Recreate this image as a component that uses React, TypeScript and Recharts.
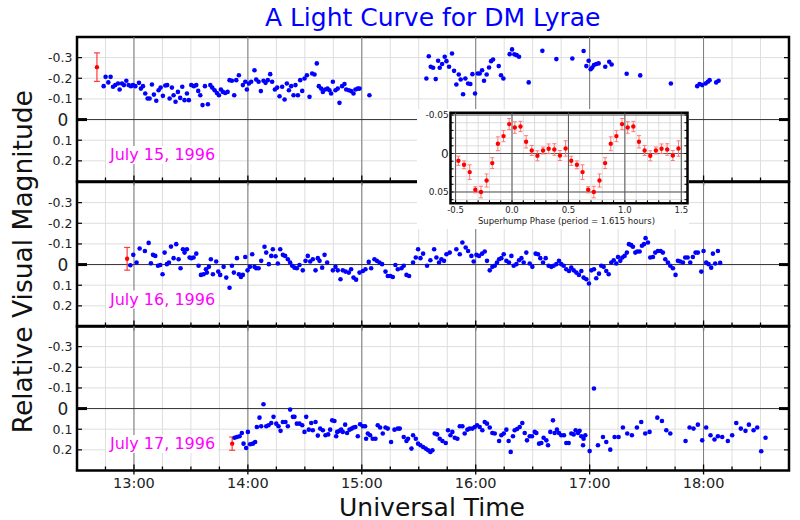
import React from 'react';
import { ScatterChart, Scatter, XAxis, YAxis, CartesianGrid, ReferenceLine, ReferenceArea, ErrorBar } from 'recharts';

const FONT = '"DejaVu Sans", Verdana, sans-serif';

// main panels: 15 minute ticks, hour lines, magnitude ticks
const timeTicks = [12.5, 12.75, 13, 13.25, 13.5, 13.75, 14, 14.25, 14.5, 14.75, 15, 15.25, 15.5, 15.75, 16, 16.25, 16.5, 16.75, 17, 17.25, 17.5, 17.75, 18, 18.25, 18.5, 18.75];
const hourLines = [13, 14, 15, 16, 17, 18];
const magTicks = [-0.3, -0.2, -0.1, 0, 0.1, 0.2];
const dateLabels = ['July 15, 1996', 'July 16, 1996', 'July 17, 1996'];

// [UT hours, relative magnitude]
const july15: [number, number][] = [
  [12.734, -0.162], [12.751, -0.207], [12.775, -0.18], [12.795, -0.207], [12.816, -0.159], [12.836, -0.167], [12.86, -0.175], [12.874, -0.146],
  [12.895, -0.175], [12.912, -0.167], [12.933, -0.188], [12.953, -0.167], [12.974, -0.162], [12.991, -0.167], [13.012, -0.162], [13.044, -0.178],
  [13.061, -0.15], [13.079, -0.162], [13.099, -0.126], [13.12, -0.102], [13.137, -0.102], [13.158, -0.17], [13.175, -0.121], [13.196, -0.091],
  [13.216, -0.142], [13.234, -0.155], [13.254, -0.115], [13.275, -0.165], [13.292, -0.167], [13.313, -0.102], [13.333, -0.155], [13.348, -0.118],
  [13.365, -0.086], [13.386, -0.134], [13.406, -0.105], [13.424, -0.159], [13.444, -0.094], [13.465, -0.126], [13.482, -0.094], [13.503, -0.167],
  [13.526, -0.162], [13.547, -0.167], [13.564, -0.139], [13.582, -0.118], [13.602, -0.07], [13.623, -0.162], [13.649, -0.074], [13.67, -0.167],
  [13.687, -0.155], [13.708, -0.142], [13.728, -0.129], [13.746, -0.118], [13.763, -0.146], [13.781, -0.134], [13.801, -0.129], [13.822, -0.134],
  [13.839, -0.191], [13.86, -0.188], [13.88, -0.118], [13.898, -0.191], [13.921, -0.215], [13.956, -0.167], [13.977, -0.183], [13.991, -0.146],
  [14.009, -0.175], [14.029, -0.183], [14.058, -0.239], [14.073, -0.194], [14.094, -0.183], [14.114, -0.138], [14.137, -0.188], [14.155, -0.178],
  [14.175, -0.191], [14.196, -0.22], [14.213, -0.183], [14.237, -0.146], [14.257, -0.155], [14.278, -0.113], [14.301, -0.159], [14.322, -0.097],
  [14.342, -0.175], [14.36, -0.142], [14.38, -0.162], [14.401, -0.118], [14.418, -0.167], [14.439, -0.118], [14.459, -0.191], [14.477, -0.139],
  [14.497, -0.199], [14.518, -0.215], [14.541, -0.11], [14.564, -0.223], [14.585, -0.218], [14.605, -0.272], [14.623, -0.162], [14.643, -0.15],
  [14.658, -0.134], [14.678, -0.146], [14.699, -0.15], [14.716, -0.142], [14.731, -0.126], [14.746, -0.183], [14.769, -0.142], [14.789, -0.15],
  [14.804, -0.081], [14.827, -0.162], [14.848, -0.172], [14.863, -0.146], [14.886, -0.142], [14.906, -0.138], [14.927, -0.126], [14.944, -0.146],
  [14.965, -0.15], [14.98, -0.15], [15.067, -0.118],
  [15.567, -0.199], [15.588, -0.307], [15.605, -0.256], [15.626, -0.251], [15.649, -0.196], [15.67, -0.285], [15.684, -0.251], [15.705, -0.269],
  [15.728, -0.304], [15.743, -0.283], [15.766, -0.256], [15.792, -0.32], [15.81, -0.236], [15.83, -0.17], [15.851, -0.218], [15.868, -0.194],
  [15.889, -0.123], [15.909, -0.199], [15.933, -0.175], [15.953, -0.172], [15.971, -0.22], [15.994, -0.126], [16.018, -0.223], [16.035, -0.223],
  [16.056, -0.239], [16.073, -0.188], [16.096, -0.218], [16.117, -0.252], [16.135, -0.283], [16.152, -0.291], [16.202, -0.259], [16.222, -0.215],
  [16.243, -0.199], [16.298, -0.317], [16.319, -0.34], [16.339, -0.316], [16.36, -0.312], [16.38, -0.304], [16.465, -0.18], [16.585, -0.333],
  [16.708, -0.293], [16.848, -0.296], [16.947, -0.332], [16.971, -0.259], [16.991, -0.285], [17.009, -0.244], [17.023, -0.252], [17.038, -0.264],
  [17.058, -0.269], [17.079, -0.272], [17.137, -0.256], [17.172, -0.28], [17.193, -0.267], [17.325, -0.222], [17.444, -0.214], [17.713, -0.175],
  [17.944, -0.162], [17.965, -0.172], [17.988, -0.167], [18.018, -0.175], [18.038, -0.183], [18.053, -0.191], [18.111, -0.18], [18.132, -0.188],
];

const july16: [number, number][] = [
  [12.968, 0.003], [12.994, -0.047], [13.023, -0.01], [13.05, -0.078], [13.096, -0.066], [13.129, -0.105], [13.149, -0.006], [13.167, -0.047],
  [13.187, -0.042], [13.211, 0.006], [13.231, 0.002], [13.251, 0.047], [13.269, -0.058], [13.289, -0.002], [13.307, -0.01], [13.325, -0.087],
  [13.348, -0.031], [13.371, -0.099], [13.392, -0.026], [13.409, 0.018], [13.43, -0.074], [13.444, -0.058], [13.465, -0.074], [13.488, -0.034],
  [13.503, -0.031], [13.523, -0.034], [13.547, -0.053], [13.567, 0.006], [13.588, 0.05], [13.611, 0.047], [13.632, 0.023], [13.64, 0.039],
  [13.658, 0.011], [13.675, -0.026], [13.693, 0.047], [13.722, -0.015], [13.74, 0.034], [13.757, 0.05], [13.787, 0.011], [13.81, 0.063],
  [13.839, 0.112], [13.86, 0.006], [13.877, 0.039], [13.904, -0.031], [13.921, 0.047], [13.939, 0.06], [13.956, 0.05], [13.977, -0.037],
  [13.997, 0.028], [14.018, 0.011], [14.038, -0.05], [14.058, 0.011], [14.073, 0.018], [14.094, 0.018], [14.117, -0.018], [14.146, -0.086],
  [14.161, -0.058], [14.184, -0.002], [14.205, -0.042], [14.219, -0.074], [14.243, -0.04], [14.263, -0.005], [14.284, -0.074], [14.307, -0.047],
  [14.327, -0.042], [14.351, -0.026], [14.371, -0.01], [14.389, 0.006], [14.409, 0.015], [14.43, 0.018], [14.453, 0.002], [14.482, 0.028],
  [14.506, -0.018], [14.526, -0.042], [14.547, -0.015], [14.57, -0.026], [14.594, 0.028], [14.614, -0.031], [14.629, -0.018], [14.652, 0.015],
  [14.673, -0.047], [14.696, -0.01], [14.746, 0.028], [14.769, 0.011], [14.789, 0.028], [14.813, 0.071], [14.833, 0.028], [14.857, 0.034],
  [14.886, 0.039], [14.906, 0.023], [14.927, 0.063], [14.95, 0.073], [14.98, 0.039], [15.009, 0.031], [15.032, 0.023], [15.061, -0.013],
  [15.082, 0.018], [15.111, -0.026], [15.132, -0.018], [15.155, -0.01], [15.178, -0.002], [15.208, 0.034], [15.228, 0.055], [15.251, 0.055],
  [15.272, 0.06], [15.295, 0.002], [15.316, 0.023], [15.348, 0.018], [15.368, 0.006], [15.392, 0.05], [15.415, 0.055], [15.45, -0.01],
  [15.474, -0.034], [15.494, -0.074], [15.515, -0.031], [15.538, -0.053], [15.573, 0.006], [15.602, -0.021], [15.635, -0.074], [15.655, -0.034],
  [15.678, -0.01], [15.699, -0.026], [15.722, -0.018], [15.743, -0.05], [15.772, -0.058], [15.83, -0.074], [15.86, -0.05], [15.883, -0.107],
  [15.912, -0.083], [15.933, -0.066], [15.962, -0.042], [15.982, -0.015], [16.006, -0.047], [16.029, -0.042], [16.056, -0.053], [16.079, -0.063],
  [16.099, -0.018], [16.123, 0.028], [16.146, 0.011], [16.167, 0.006], [16.187, -0.01], [16.205, -0.026], [16.225, -0.031], [16.246, -0.05],
  [16.269, -0.018], [16.292, -0.01], [16.313, -0.042], [16.333, 0.006], [16.357, -0.002], [16.38, -0.021], [16.401, -0.031], [16.421, -0.01],
  [16.444, -0.058], [16.474, -0.005], [16.497, 0.011], [16.526, -0.053], [16.547, -0.05], [16.567, -0.031], [16.591, -0.01], [16.614, -0.031],
  [16.64, 0.006], [16.664, 0.011], [16.684, 0.006], [16.708, -0.002], [16.731, -0.018], [16.751, -0.002], [16.772, 0.006], [16.795, 0.023],
  [16.819, 0.031], [16.839, 0.015], [16.86, 0.028], [16.883, 0.039], [16.906, 0.05], [16.927, 0.031], [16.947, 0.063], [16.971, 0.071],
  [16.994, 0.092], [17.015, 0.028], [17.038, 0.023], [17.058, 0.066], [17.082, 0.044], [17.102, 0.006], [17.123, 0.011], [17.146, 0.031],
  [17.167, 0.047], [17.19, -0.01], [17.211, -0.021], [17.234, -0.005], [17.249, -0.037], [17.269, -0.018], [17.287, -0.034], [17.307, -0.042],
  [17.327, -0.058], [17.345, -0.099], [17.365, -0.094], [17.38, -0.086], [17.401, -0.058], [17.418, -0.063], [17.439, -0.063], [17.459, -0.091],
  [17.477, -0.099], [17.491, -0.128], [17.512, -0.107], [17.532, -0.034], [17.556, -0.037], [17.576, -0.058], [17.599, -0.066], [17.623, -0.066],
  [17.643, -0.058], [17.664, -0.026], [17.687, -0.01], [17.708, 0.006], [17.731, 0.018], [17.754, 0.05], [17.775, -0.018], [17.795, -0.015],
  [17.819, -0.01], [17.839, -0.034], [17.86, -0.034], [17.883, -0.01], [17.906, -0.037], [17.93, -0.058], [17.95, -0.058], [17.98, 0.034],
  [18.0, -0.066], [18.023, -0.01], [18.044, -0.002], [18.067, 0.015], [18.082, -0.053], [18.102, -0.005], [18.126, -0.066], [18.146, -0.008],
];

const july17: [number, number][] = [
  [13.883, 0.141], [13.904, 0.138], [13.927, 0.134], [13.947, 0.118], [13.962, 0.17], [13.985, 0.191], [14.0, 0.113], [14.02, 0.173],
  [14.044, 0.17], [14.064, 0.162], [14.079, 0.089], [14.102, 0.044], [14.117, 0.086], [14.137, -0.021], [14.161, 0.086], [14.181, 0.081],
  [14.205, 0.07], [14.225, 0.04], [14.249, 0.073], [14.269, 0.086], [14.287, 0.108], [14.307, 0.065], [14.33, 0.065], [14.351, 0.086],
  [14.371, 0.005], [14.395, 0.04], [14.409, 0.04], [14.43, 0.073], [14.453, 0.073], [14.477, 0.081], [14.497, 0.113], [14.512, 0.04],
  [14.535, 0.102], [14.556, 0.07], [14.57, 0.105], [14.594, 0.065], [14.614, 0.131], [14.635, 0.097], [14.658, 0.105], [14.681, 0.129],
  [14.705, 0.125], [14.722, 0.102], [14.74, 0.057], [14.76, 0.06], [14.775, 0.134], [14.784, 0.113], [14.804, 0.108], [14.819, 0.102],
  [14.833, 0.113], [14.854, 0.078], [14.871, 0.118], [14.892, 0.102], [14.912, 0.097], [14.927, 0.092], [14.944, 0.089], [14.965, 0.134],
  [14.985, 0.076], [15.009, 0.086], [15.029, 0.086], [15.038, 0.146], [15.053, 0.121], [15.073, 0.129], [15.096, 0.146], [15.12, 0.146],
  [15.14, 0.081], [15.161, 0.092], [15.184, 0.121], [15.208, 0.092], [15.228, 0.097], [15.257, 0.162], [15.287, 0.102], [15.316, 0.097],
  [15.333, 0.097], [15.368, 0.138], [15.392, 0.157], [15.406, 0.146], [15.436, 0.194], [15.45, 0.129], [15.474, 0.146], [15.494, 0.17],
  [15.515, 0.178], [15.538, 0.186], [15.561, 0.194], [15.582, 0.202], [15.602, 0.21], [15.62, 0.202], [15.64, 0.121], [15.661, 0.125],
  [15.684, 0.146], [15.708, 0.157], [15.737, 0.167], [15.757, 0.105], [15.778, 0.129], [15.795, 0.113], [15.816, 0.141], [15.839, 0.146],
  [15.86, 0.086], [15.883, 0.086], [15.903, 0.121], [15.927, 0.102], [15.947, 0.097], [15.971, 0.097], [15.991, 0.089], [16.012, 0.081],
  [16.035, 0.089], [16.058, 0.105], [16.079, 0.065], [16.099, 0.073], [16.123, 0.092], [16.146, 0.118], [16.167, 0.121], [16.205, 0.157],
  [16.225, 0.129], [16.246, 0.121], [16.269, 0.102], [16.289, 0.157], [16.307, 0.21], [16.327, 0.134], [16.342, 0.105], [16.363, 0.099],
  [16.386, 0.089], [16.409, 0.07], [16.43, 0.118], [16.45, 0.154], [16.474, 0.134], [16.494, 0.134], [16.518, 0.113], [16.532, 0.118],
  [16.556, 0.17], [16.576, 0.167], [16.596, 0.141], [16.62, 0.154], [16.635, 0.178], [16.655, 0.113], [16.678, 0.057], [16.693, 0.118],
  [16.713, 0.102], [16.731, 0.118], [16.751, 0.129], [16.775, 0.129], [16.795, 0.167], [16.816, 0.167], [16.839, 0.121], [16.86, 0.125],
  [16.877, 0.105], [16.898, 0.118], [16.912, 0.108], [16.927, 0.134], [16.947, 0.146], [16.942, 0.178], [16.962, 0.129], [17.0, 0.206],
  [17.038, -0.097], [17.073, 0.178], [17.117, 0.138], [17.146, 0.162], [17.181, 0.199], [17.219, 0.138], [17.254, 0.138], [17.292, 0.092],
  [17.33, 0.121], [17.371, 0.129], [17.415, 0.092], [17.453, 0.065], [17.488, 0.121], [17.526, 0.113], [17.594, 0.044], [17.635, 0.06],
  [17.673, 0.105], [17.708, 0.121], [17.842, 0.157], [17.877, 0.092], [17.912, 0.097], [17.95, 0.078], [17.988, 0.154], [18.023, 0.092],
  [18.061, 0.129], [18.096, 0.15], [18.126, 0.134], [18.164, 0.138], [18.213, 0.157], [18.251, 0.129], [18.287, 0.07], [18.327, 0.097],
  [18.368, 0.108], [18.398, 0.078], [18.439, 0.105], [18.471, 0.092], [18.506, 0.207], [18.544, 0.141],
];

// typical error bar drawn once per night: [UT hours, magnitude, error]
const july15Err: [number, number, number] = [12.675, -0.254, 0.069];
const july16Err: [number, number, number] = [12.94, -0.028, 0.055];
const july17Err: [number, number, number] = [13.862, 0.17, 0.032];

// inset: light curve folded on the superhump period (two cycles shown)
const phase = [
  -0.475, -0.425, -0.375, -0.325, -0.275, -0.225, -0.175, -0.125, -0.075, -0.025,
  0.025, 0.075, 0.125, 0.175, 0.225, 0.275, 0.325, 0.375, 0.425, 0.475,
  0.525, 0.575, 0.625, 0.675, 0.725, 0.775, 0.825, 0.875, 0.925, 0.975,
  1.025, 1.075, 1.125, 1.175, 1.225, 1.275, 1.325, 1.375, 1.425, 1.475,
];
const phaseMag = [
  0.0095, 0.0147, 0.0242, 0.0471, 0.0501, 0.0351, 0.0125, -0.0126, -0.0226, -0.0382,
  -0.0338, -0.0351, -0.0152, -0.0039, 0.003, -0.0039, -0.0061, -0.0052, 0.0026, -0.0065,
  0.0095, 0.0147, 0.0242, 0.0471, 0.0501, 0.0351, 0.0125, -0.0126, -0.0226, -0.0382,
  -0.0338, -0.0351, -0.0152, -0.0039, 0.003, -0.0039, -0.0061, -0.0052, 0.0026, -0.0065,
];
const phaseErr = [
  0.006, 0.005, 0.0095, 0.004, 0.0075, 0.0085, 0.007, 0.009, 0.0073, 0.0073,
  0.0075, 0.0067, 0.008, 0.0065, 0.0065, 0.0045, 0.0063, 0.0075, 0.0065, 0.01,
  0.006, 0.005, 0.0095, 0.004, 0.0075, 0.0085, 0.007, 0.009, 0.0073, 0.0073,
  0.0075, 0.0067, 0.008, 0.0065, 0.0065, 0.0045, 0.0063, 0.0075, 0.0065, 0.01,
];
const phaseTicks = [-0.5, -0.4, -0.3, -0.2, -0.1, 0, 0.1, 0.2, 0.3, 0.4, 0.5, 0.6, 0.7, 0.8, 0.9, 1, 1.1, 1.2, 1.3, 1.4, 1.5];
const phaseMajor = [-0.5, 0, 0.5, 1, 1.5];
const phaseMagTicks = [-0.05, -0.04, -0.03, -0.02, -0.01, 0, 0.01, 0.02, 0.03, 0.04, 0.05, 0.06];
const phaseMagMajor = [-0.05, 0, 0.05];

const TIME_DOMAIN: [number, number] = [12.5, 18.75];
const MAG_DOMAIN: [number, number] = [-0.4, 0.3];
const PHASE_DOMAIN: [number, number] = [-0.545, 1.555];
const PMAG_DOMAIN: [number, number] = [-0.053, 0.0647];

const PLOT_TOPS = [37, 181.5, 326];
const PLOT_H = 144.5;

const near = (v: number, step: number) => Math.abs(v / step - Math.round(v / step)) < 1e-6;

function TimeTick(props: any) {
  const { x, y, payload, side, labels } = props;
  const v = payload.value;
  const major = near(v, 1);
  const dir = side === 'top' ? 1 : -1;
  const inner = major ? 6 : 4;
  const outer = major ? 4 : 0;
  return (
    <g>
      <line x1={x} x2={x} y1={y - dir * outer} y2={y + dir * inner} stroke="#000" strokeWidth={1.3} />
      {labels && major && (
        <text x={x} y={y + 17.2} textAnchor="middle" fontSize={14.5} fill="#222" fontFamily={FONT}>
          {`${v}:00`}
        </text>
      )}
    </g>
  );
}

function MagTick(props: any) {
  const { x, y, payload, side } = props;
  const v = payload.value;
  const zero = v === 0;
  const dir = side === 'left' ? 1 : -1;
  return (
    <g>
      <line x1={x - dir * (zero ? 1 : 0)} x2={x + dir * (zero ? 10 : 5)} y1={y} y2={y} stroke="#000" strokeWidth={zero ? 3 : 1.2} />
      {side === 'left' && (
        <text x={x - (zero ? 8.7 : 4.5)} y={y} dy="0.36em" textAnchor="end" fontSize={zero ? 17 : 12.5} fill="#222" fontFamily={FONT}>
          {String(v)}
        </text>
      )}
    </g>
  );
}

function PhaseTick(props: any) {
  const { x, y, payload, side } = props;
  const v = payload.value;
  const dir = side === 'top' ? 1 : -1;
  return (
    <g>
      <line x1={x} x2={x} y1={y} y2={y + dir * 3} stroke="#000" strokeWidth={1} />
      {side === 'bottom' && near(v, 0.5) && (
        <text x={x} y={y + 10} textAnchor="middle" fontSize={8.5} fill="#222" fontFamily={FONT}>
          {v.toFixed(1)}
        </text>
      )}
    </g>
  );
}

function PhaseMagTick(props: any) {
  const { x, y, payload, side } = props;
  const v = payload.value;
  const dir = side === 'left' ? 1 : -1;
  const zero = v === 0;
  return (
    <g>
      <line x1={x} x2={x + dir * 3} y1={y} y2={y} stroke="#000" strokeWidth={1} />
      {side === 'left' && near(v, 0.05) && (
        <text x={x - 1.8} y={y} dy="0.36em" textAnchor="end" fontSize={zero ? 12 : 9} fill="#222" fontFamily={FONT}>
          {String(v)}
        </text>
      )}
    </g>
  );
}

const BlueDot = (p: any) => <circle cx={p.cx} cy={p.cy} r={2.3} fill="#0000ff" />;
const RedDot = (p: any) => <circle cx={p.cx} cy={p.cy} r={2.2} fill="#ff0000" />;

// axes get a 1px box so that recharts still draws them; ticks are drawn inward by the custom tick
const axisBase = { tickSize: 0, tickMargin: 0, tickLine: false, axisLine: false, interval: 0 as const, allowDataOverflow: true };

function Panel({ idx, points, err, last }: { idx: number; points: [number, number][]; err: [number, number, number]; last: boolean }) {
  const data = points.map(([t, m]) => ({ t, m }));
  const errData = [{ t: err[0], m: err[1], e: err[2] }];
  const mb = last ? 26 : 8;
  return (
    <div style={{ position: 'absolute', left: 0, top: PLOT_TOPS[idx] - 8 }}>
      <ScatterChart width={800} height={8 + PLOT_H + mb} margin={{ top: 7, right: 10, bottom: mb - 1, left: 37 }}>
        <CartesianGrid xAxisId="b" yAxisId="l" stroke="#dedede" strokeWidth={1} />
        <XAxis {...axisBase} xAxisId="b" type="number" dataKey="t" domain={TIME_DOMAIN} ticks={timeTicks} height={1}
          tick={(p: any) => <TimeTick {...p} side="bottom" labels={last} />} />
        <XAxis {...axisBase} xAxisId="t" orientation="top" type="number" domain={TIME_DOMAIN} ticks={timeTicks} height={1}
          tick={(p: any) => <TimeTick {...p} side="top" labels={false} />} />
        <YAxis {...axisBase} yAxisId="l" type="number" dataKey="m" domain={MAG_DOMAIN} reversed ticks={magTicks} width={40}
          tick={(p: any) => <MagTick {...p} side="left" />} />
        <YAxis {...axisBase} yAxisId="r" orientation="right" type="number" domain={MAG_DOMAIN} reversed ticks={magTicks} width={1}
          tick={(p: any) => <MagTick {...p} side="right" />} />
        {hourLines.map((h) => (
          <ReferenceLine key={h} xAxisId="b" yAxisId="l" x={h} stroke="#7a7a7a" strokeWidth={1} />
        ))}
        <ReferenceLine xAxisId="b" yAxisId="l" y={0} stroke="#333" strokeWidth={1} />
        <ReferenceArea xAxisId="b" yAxisId="l" x1={TIME_DOMAIN[0]} x2={TIME_DOMAIN[1]} y1={MAG_DOMAIN[0]} y2={MAG_DOMAIN[1]}
          fill="none" fillOpacity={0} stroke="#000" strokeWidth={2.5} ifOverflow="visible" />
        <Scatter xAxisId="b" yAxisId="l" data={data} fill="#0000ff" shape={BlueDot} isAnimationActive={false} />
        <Scatter xAxisId="b" yAxisId="l" data={errData} fill="#ff0000" shape={RedDot} isAnimationActive={false}>
          <ErrorBar dataKey="e" direction="y" width={3} stroke="#ff3b3b" strokeWidth={1.2} isAnimationActive={false} />
        </Scatter>
      </ScatterChart>
    </div>
  );
}

function Inset() {
  const data = phase.map((p, i) => ({ p, m: phaseMag[i], e: phaseErr[i] }));
  return (
    <div style={{ position: 'absolute', left: 417, top: 109, width: 272, height: 120, background: '#fff' }}>
      <ScatterChart width={272} height={120} margin={{ top: 2.7, right: 0.5, bottom: 24.7, left: 0 }}>
        <CartesianGrid xAxisId="b" yAxisId="l" stroke="#d4d4d4" strokeWidth={0.8} />
        <XAxis {...axisBase} xAxisId="b" type="number" dataKey="p" domain={PHASE_DOMAIN} ticks={phaseTicks} height={1}
          tick={(p: any) => <PhaseTick {...p} side="bottom" />} />
        <XAxis {...axisBase} xAxisId="t" orientation="top" type="number" domain={PHASE_DOMAIN} ticks={phaseTicks} height={1}
          tick={(p: any) => <PhaseTick {...p} side="top" />} />
        <YAxis {...axisBase} yAxisId="l" type="number" dataKey="m" domain={PMAG_DOMAIN} reversed ticks={phaseMagTicks} width={33.5}
          tick={(p: any) => <PhaseMagTick {...p} side="left" />} />
        <YAxis {...axisBase} yAxisId="r" orientation="right" type="number" domain={PMAG_DOMAIN} reversed ticks={phaseMagTicks} width={1}
          tick={(p: any) => <PhaseMagTick {...p} side="right" />} />
        {phaseMajor.map((v) => (
          <ReferenceLine key={'x' + v} xAxisId="b" yAxisId="l" x={v} stroke="#555" strokeWidth={1} />
        ))}
        {phaseMagMajor.map((v) => (
          <ReferenceLine key={'y' + v} xAxisId="b" yAxisId="l" y={v} stroke="#555" strokeWidth={1} />
        ))}
        <ReferenceArea xAxisId="b" yAxisId="l" x1={PHASE_DOMAIN[0]} x2={PHASE_DOMAIN[1]} y1={PMAG_DOMAIN[0]} y2={PMAG_DOMAIN[1]}
          fill="none" fillOpacity={0} stroke="#000" strokeWidth={2.5} ifOverflow="visible" />
        <Scatter xAxisId="b" yAxisId="l" data={data} fill="#ff0000" shape={RedDot} isAnimationActive={false}>
          <ErrorBar dataKey="e" direction="y" width={2} stroke="#ff7a7a" strokeWidth={1} isAnimationActive={false} />
        </Scatter>
      </ScatterChart>
    </div>
  );
}

const dateBaselines = [160, 304.5, 449];

export default function App() {
  return (
    <div style={{ position: 'absolute', left: 0, top: 0, width: 800, height: 520, background: '#fff', fontFamily: FONT, overflow: 'hidden' }}>
      <Panel idx={0} points={july15} err={july15Err} last={false} />
      <Panel idx={1} points={july16} err={july16Err} last={false} />
      <Panel idx={2} points={july17} err={july17Err} last={true} />
      <Inset />
      <svg width={800} height={520} style={{ position: 'absolute', left: 0, top: 0, pointerEvents: 'none' }} fontFamily={FONT}>
        <text x={432.7} y={26} textAnchor="middle" fontSize={25} fill="#0000ff">A Light Curve for DM Lyrae</text>
        <text transform="translate(32,261.7) rotate(-90)" textAnchor="middle" fontSize={26.5} fill="#111">Relative Visual Magnitude</text>
        <text x={432} y={515.5} textAnchor="middle" fontSize={25} fill="#111">Universal Time</text>
        <text x={566.5} y={224.3} textAnchor="middle" fontSize={8.5} fill="#222">Superhump Phase (period = 1.615 hours)</text>
        {dateLabels.map((d, i) => (
          <g key={d}>
            <rect x={106} y={dateBaselines[i] - 14} width={112} height={18} fill="#fff" />
            <text x={110} y={dateBaselines[i]} fontSize={16} fill="#ff00ff">{d}</text>
          </g>
        ))}
      </svg>
    </div>
  );
}
